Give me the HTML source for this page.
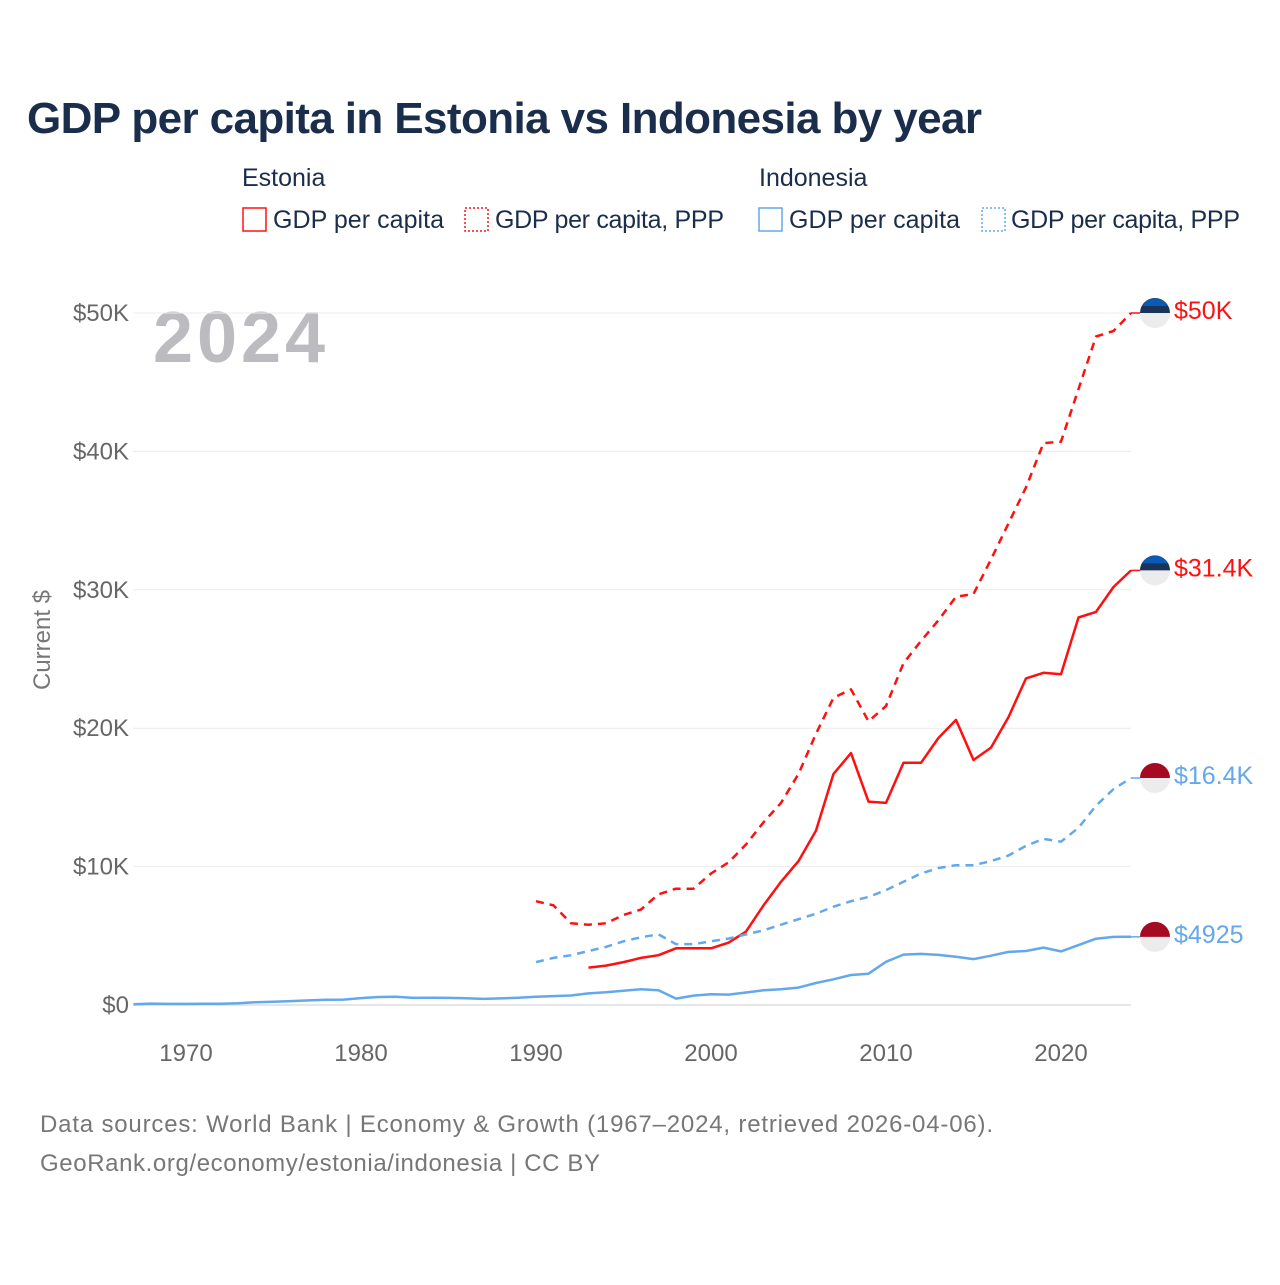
<!DOCTYPE html>
<html><head><meta charset="utf-8"><style>
body{margin:0;background:#fff;font-family:"Liberation Sans",sans-serif;}
svg text{font-family:"Liberation Sans",sans-serif;}
</style></head><body>
<svg width="1280" height="1280" viewBox="0 0 1280 1280">
<text x="27" y="133" font-size="44" font-weight="bold" fill="#1a2e4c" textLength="955">GDP per capita in Estonia vs Indonesia by year</text>
<g font-size="25" fill="#1a2e4c">
<text x="242" y="186">Estonia</text><text x="759" y="186">Indonesia</text>
<g><rect x="243" y="208" width="23" height="23" fill="none" stroke="#ff1010" stroke-width="1.5"/><text x="273" y="228" textLength="171">GDP per capita</text></g>
<g><rect x="465" y="208" width="23" height="23" fill="none" stroke="#ff1010" stroke-width="1.5" stroke-dasharray="2,2"/><text x="495" y="228" textLength="229">GDP per capita, PPP</text></g>
<g><rect x="759" y="208" width="23" height="23" fill="none" stroke="#64a8ec" stroke-width="1.5"/><text x="789" y="228" textLength="171">GDP per capita</text></g>
<g><rect x="982" y="208" width="23" height="23" fill="none" stroke="#64a8ec" stroke-width="1.5" stroke-dasharray="2,2"/><text x="1011" y="228" textLength="229">GDP per capita, PPP</text></g>
</g>
<text x="153" y="362" font-size="72" font-weight="bold" fill="#bcbcc0" textLength="172">2024</text>
<text transform="translate(50,640) rotate(-90)" text-anchor="middle" font-size="24" fill="#777">Current $</text>
<g id="grid"></g><g id="yt"></g><g id="xt"></g><g id="lines"></g><g id="ends"></g>
<text x="40" y="1132" font-size="24" fill="#777" textLength="953">Data sources: World Bank | Economy &amp; Growth (1967–2024, retrieved 2026-04-06).</text>
<text x="40" y="1171" font-size="24" fill="#777" textLength="560">GeoRank.org/economy/estonia/indonesia | CC BY</text>
</svg>
<script>
const yTicks=[0,10000,20000,30000,40000,50000];
const yTickLabels=["$0","$10K","$20K","$30K","$40K","$50K"];
const xTicks=[1970,1980,1990,2000,2010,2020];
const estGdpStart=1993;
const estGdp=[2700,2850,3100,3400,3600,4100,4100,4100,4500,5300,7200,8900,10400,12600,16700,18200,14700,14600,17500,17500,19300,20600,17700,18600,20800,23600,24000,23900,28000,28400,30200,31400];
const estPppStart=1990;
const estPpp=[7500,7200,5900,5800,5900,6500,6900,8000,8400,8400,9500,10300,11600,13200,14600,16700,19600,22200,22800,20500,21600,24700,26300,27800,29500,29700,32200,34800,37400,40600,40700,44500,48300,48700,50000];
const idnGdpStart=1967;
const idnGdp=[55,100,80,80,85,90,130,200,240,280,330,380,390,500,580,590,510,520,510,490,440,480,530,590,640,690,840,920,1030,1140,1060,460,680,780,750,900,1060,1140,1260,1590,1860,2170,2260,3120,3640,3690,3620,3490,3320,3560,3840,3900,4150,3870,4330,4790,4920,4925];
const idnPppStart=1990;
const idnPpp=[3100,3400,3600,3900,4200,4600,4900,5100,4400,4400,4600,4800,5100,5400,5800,6200,6600,7100,7500,7800,8300,8900,9500,9900,10100,10100,10400,10800,11500,12000,11800,12800,14400,15600,16400];
const endLabels=["$31.4K","$50K","$4925","$16.4K"];
const NS="http://www.w3.org/2000/svg";
const X=y=>186+(y-1970)*17.5, Y=v=>1005-v*138.4/10000;
function mk(t,a,p){const e=document.createElementNS(NS,t);for(const k in a)e.setAttribute(k,a[k]);p.appendChild(e);return e;}
const grid=document.getElementById('grid'),yt=document.getElementById('yt'),xt=document.getElementById('xt');
yTicks.forEach((v,i)=>{
 const l=mk('line',{x1:133,x2:1131,y1:Y(v),y2:Y(v),stroke:v===0?'#e6e6e6':'#ececec','stroke-width':v===0?2:1},grid);
 
 
 const t=mk('text',{x:129,y:Y(v)+8,'text-anchor':'end','font-size':24,fill:'#666'},yt);t.textContent=yTickLabels[i];
 
 
});
xTicks.forEach(y=>{const t=mk('text',{x:X(y),y:1061,'text-anchor':'middle','font-size':24,fill:'#666'},xt);t.textContent=y;
 
 });
const series=[[estGdp,estGdpStart,'#ff1010',null,'estonia-gdp-line','est'],[estPpp,estPppStart,'#ff1010','8,6','estonia-ppp-line','est'],[idnGdp,idnGdpStart,'#64a8ec',null,'indonesia-gdp-line','idn'],[idnPpp,idnPppStart,'#64a8ec','8,6','indonesia-ppp-line','idn']];
const lines=document.getElementById('lines'),ends=document.getElementById('ends');
series.forEach((s,i)=>{
 const [d,st,c,da,n,ct]=s;
 const pts=d.map((v,j)=>X(st+j).toFixed(1)+','+Y(v).toFixed(1));
 const a={points:pts.join(' '),fill:'none',stroke:c,'stroke-width':2.5,'stroke-linejoin':'round'};if(da)a['stroke-dasharray']=da;
 const p=mk('polyline',a,lines);
 
 
 const last=d[d.length-1],yy=Y(last),lx=X(st+d.length-1);
 mk('line',{x1:lx,x2:1141,y1:yy,y2:yy,stroke:c,'stroke-width':1.5},ends);
 const g=mk('g',{},ends);
 
 
 const cx=1155,r=15;
 mk('path',{d:`M${cx-r},${yy} A${r},${r} 0 0 0 ${cx+r},${yy} Z`,fill:'#ececec'},g);
 if(ct==='est'){
  mk('path',{d:`M${cx-r},${yy} A${r},${r} 0 0 1 ${cx+r},${yy} Z`,fill:'#1a3358'},g);
  mk('path',{d:`M${cx-13},${yy-7} A${r},${r} 0 0 1 ${cx+13},${yy-7} Z`,fill:'#0a5ab8'},g);
 } else mk('path',{d:`M${cx-r},${yy} A${r},${r} 0 0 1 ${cx+r},${yy} Z`,fill:'#a50a22'},g);
 const t=mk('text',{x:1174,y:yy+6,'font-size':25,fill:c},ends);t.textContent=endLabels[i];
 
 
});
</script>
</body></html>
